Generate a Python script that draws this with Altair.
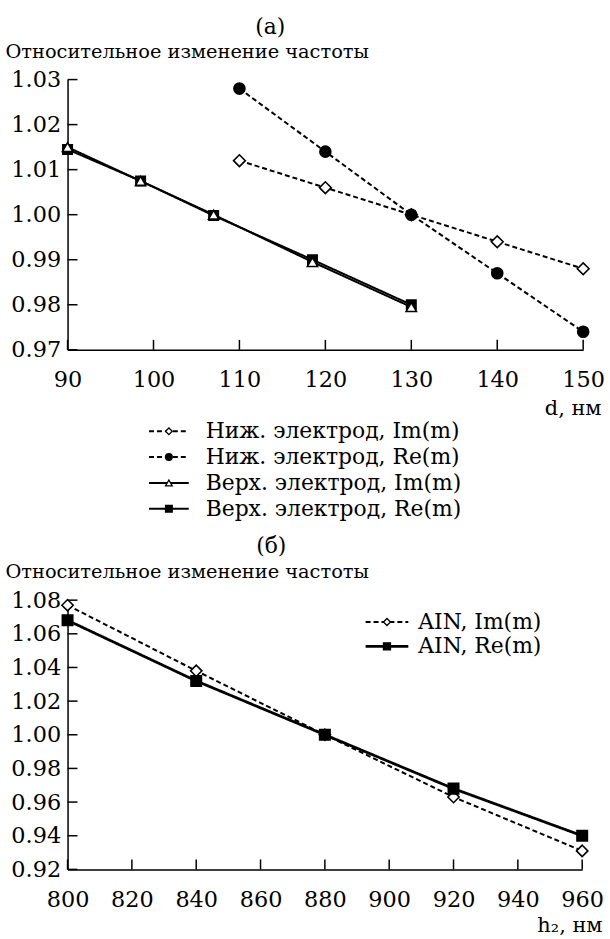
import altair as alt
import pandas as pd

# ---------------- Panel (а) data ----------------
d_low = [110, 120, 130, 140, 150]
low_im = [1.012, 1.006, 1.000, 0.994, 0.988]
low_re = [1.028, 1.014, 1.000, 0.987, 0.974]
d_up = [90, 98.5, 107, 118.5, 130]
up_im = [1.015, 1.0075, 1.000, 0.9895, 0.9795]
up_re = [1.0145, 1.0075, 0.9998, 0.990, 0.980]
series_a = ["Ниж. электрод, Im(m)", "Ниж. электрод, Re(m)",
            "Верх. электрод, Im(m)", "Верх. электрод, Re(m)"]
x_ticks_a = [90, 100, 110, 120, 130, 140, 150]
y_ticks_a = [0.97, 0.98, 0.99, 1.00, 1.01, 1.02, 1.03]

# ---------------- Panel (б) data ----------------
h2 = [800, 840, 880, 920, 960]
aln_im = [1.077, 1.038, 1.000, 0.963, 0.931]
aln_re = [1.068, 1.032, 1.000, 0.968, 0.940]
series_b = ["AIN, Im(m)", "AIN, Re(m)"]
x_ticks_b = [800, 820, 840, 860, 880, 900, 920, 940, 960]
y_ticks_b = [0.92, 0.94, 0.96, 0.98, 1.00, 1.02, 1.04, 1.06, 1.08]

FONT = "DejaVu Serif"
LBL = 22.5     # tick labels
LEG = 22       # legend text
YT = 19.5      # y axis title
XT = 21        # x axis title


def long_df(groups):
    rows = []
    for z, (name, xs, ys) in enumerate(groups):
        for x, y in zip(xs, ys):
            rows.append({"x": x, "y": y, "series": name, "z": z})
    return pd.DataFrame(rows)


def panel(df, series, shapes, fills, dashes, widths, sizes,
          xdom, ydom, xticks, yticks, xtitle, xtitle_x, xtitle_y,
          W, H, plabel, plabel_x, plabel_y, ytitle_y,
          leg_range, leg_x0, leg_x1, leg_tx, leg_size, yfmt, xpad):
    xs = alt.Scale(domain=xdom, nice=False, zero=False)
    ys = alt.Scale(domain=ydom, nice=False, zero=False)
    xaxis = alt.Axis(values=xticks, format="d", ticks=False, grid=False,
                     labelPadding=xpad, labelFontSize=LBL, labelFont=FONT, labelColor="black",
                     title=xtitle, titleFont=FONT, titleColor="black",
                     titleX=xtitle_x, titleY=xtitle_y, titleAlign="right",
                     titleBaseline="alphabetic", titleFontSize=XT,
                     titleFontWeight="normal", labelFlush=False,
                     domainColor="black", domainWidth=1.5)
    yaxis = alt.Axis(values=yticks, format=yfmt, ticks=False, grid=False,
                     labelPadding=7, labelFontSize=LBL, labelFont=FONT, labelColor="black",
                     title="Относительное изменение частоты", titleFont=FONT,
                     titleColor="black",
                     titleAngle=0, titleX=-63, titleY=ytitle_y,
                     titleAlign="left", titleBaseline="alphabetic",
                     titleFontSize=YT, titleFontWeight="normal",
                     labelFlush=False, domainColor="black", domainWidth=1.5)
    X = alt.X("x:Q", scale=xs, axis=xaxis)
    Y = alt.Y("y:Q", scale=ys, axis=yaxis)
    shape = alt.Shape("series:N", scale=alt.Scale(domain=series, range=shapes), legend=None)
    fill = alt.Fill("series:N", scale=alt.Scale(domain=series, range=fills), legend=None)
    dash = alt.StrokeDash("series:N", scale=alt.Scale(domain=series, range=dashes), legend=None)
    sw = alt.StrokeWidth("series:N", scale=alt.Scale(domain=series, range=widths), legend=None)

    base = alt.Chart(df)
    lines = base.mark_line(color="black").encode(x=X, y=Y, detail="series:N",
                                                 strokeDash=dash, strokeWidth=sw)
    pts = base.mark_point(filled=True, stroke="black", strokeWidth=1.6, opacity=1).encode(
        x=X, y=Y, shape=shape, fill=fill,
        size=alt.Size("series:N", scale=alt.Scale(domain=series, range=sizes), legend=None),
        order=alt.Order("z:Q"))
    xt = alt.Chart(pd.DataFrame({"x": xticks})).mark_rule(color="black", strokeWidth=1.5).encode(
        x=X, y=alt.value(H), y2=alt.value(H - 10))
    yt = alt.Chart(pd.DataFrame({"y": yticks})).mark_rule(color="black", strokeWidth=1.5).encode(
        y=Y, x=alt.value(0), x2=alt.value(10))
    lab = alt.Chart(pd.DataFrame({"t": [plabel]})).mark_text(
        fontSize=22, font=FONT, align="center", baseline="middle", color="black").encode(
        text="t:N", x=alt.value(plabel_x), y=alt.value(plabel_y))
    data_layer = alt.layer(lines, pts, xt, yt, lab)

    leg_df = pd.DataFrame({"series": series})
    LY = alt.Y("series:N", scale=alt.Scale(type="point", domain=series, range=leg_range, padding=0),
               axis=None)
    lrule = alt.Chart(leg_df).mark_rule(color="black").encode(
        y=LY, x=alt.value(leg_x0), x2=alt.value(leg_x1), strokeDash=dash, strokeWidth=sw)
    lpt = alt.Chart(leg_df).mark_point(filled=True, stroke="black", strokeWidth=1.3, opacity=1).encode(
        y=LY, x=alt.value((leg_x0 + leg_x1) / 2), shape=shape, fill=fill,
        size=alt.value(leg_size))
    ltxt = alt.Chart(leg_df).mark_text(fontSize=LEG, font=FONT, align="left", baseline="middle",
                                       color="black").encode(
        y=LY, x=alt.value(leg_tx), text="series:N")
    leg_layer = alt.layer(lrule, lpt, ltxt)

    return alt.layer(data_layer, leg_layer).resolve_scale(y="independent").properties(
        width=W, height=H)


df_a = long_df([
    (series_a[0], d_low, low_im),
    (series_a[1], d_low, low_re),
    (series_a[3], d_up, up_re),
    (series_a[2], d_up, up_im),
])
df_b = long_df([
    (series_b[0], h2, aln_im),
    (series_b[1], h2, aln_re),
])

pa = panel(df_a, series_a,
           shapes=["diamond", "circle", "triangle-up", "square"],
           fills=["white", "black", "white", "black"],
           dashes=[[5, 3], [5, 3], [1, 0], [1, 0]],
           widths=[2, 2, 2.8, 2.8],
           sizes=[140, 90, 75, 90],
           xdom=[90, 150], ydom=[0.97, 1.03], xticks=x_ticks_a, yticks=y_ticks_a,
           xtitle="d, нм", xtitle_x=537, xtitle_y=65,
           W=519, H=272, plabel="(а)", plabel_x=204, plabel_y=-53, ytitle_y=-22,
           leg_range=[354, 432], leg_x0=82, leg_x1=122, leg_tx=139, leg_size=45,
           yfmt=".2f", xpad=19)

pb = panel(df_b, series_b,
           shapes=["diamond", "square"],
           fills=["white", "black"],
           dashes=[[5, 3], [1, 0]],
           widths=[2, 2.8],
           sizes=[130, 110],
           xdom=[800, 960], ydom=[0.92, 1.08], xticks=x_ticks_b, yticks=y_ticks_b,
           xtitle="h₂, нм", xtitle_x=538, xtitle_y=63,
           W=518, H=271, plabel="(б)", plabel_x=205, plabel_y=-54, ytitle_y=-23,
           leg_range=[22, 46.5], leg_x0=300, leg_x1=343, leg_tx=353, leg_size=50,
           yfmt=".2f", xpad=19)

chart = alt.vconcat(pa, pb, spacing=252, bounds="flush").resolve_scale(
    shape="independent", fill="independent", strokeDash="independent",
    strokeWidth="independent", size="independent"
).properties(
    padding={"left": 5, "top": 13, "right": 5, "bottom": 5},
    background="white"
).configure_view(stroke=None)

chart.save("out.html", embed_options={"renderer": "svg", "actions": False})
